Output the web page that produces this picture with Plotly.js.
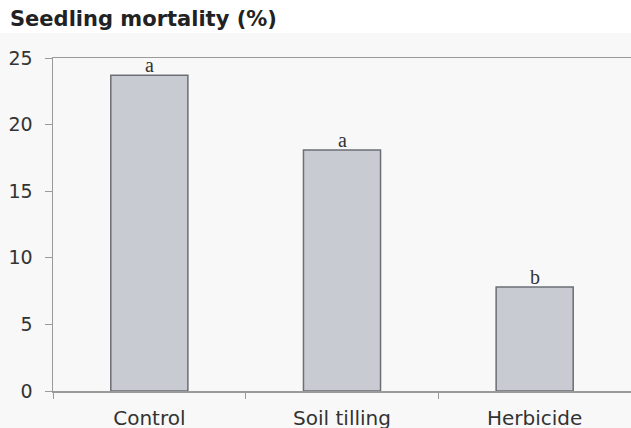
<!DOCTYPE html>
<html>
<head>
<meta charset="utf-8">
<script src="https://cdn.plot.ly/plotly-3.0.1.min.js"></script>
<style>html,body{margin:0;padding:0;background:#fff;}#chart{width:631px;height:428px;}</style>
</head>
<body>
<div id="chart"></div>
<script>
const categories = ["Control", "Soil tilling", "Herbicide"];
const mortality = [23.7, 18.1, 7.8];
const letters = ["a", "a", "b"];
const yTicks = [0, 5, 10, 15, 20, 25];

const trace = {
  type: "bar",
  x: categories,
  y: mortality,
  width: 0.4,
  marker: {color: "#c8cbd2", line: {color: "#6b6f74", width: 1.5}},
  hoverinfo: "skip"
};

const annotations = categories.map((c, i) => ({
  x: c, y: mortality[i], xref: "x", yref: "y",
  text: letters[i], showarrow: false,
  yanchor: "bottom", yshift: -2, borderpad: 0,
  font: {family: "Liberation Serif, Times New Roman, serif", size: 20, color: "#333"}
}));

const layout = {
  width: 631, height: 428,
  margin: {l: 53, r: 0, t: 58, b: 37, pad: 0},
  paper_bgcolor: "#ffffff",
  plot_bgcolor: "rgba(0,0,0,0)",
  showlegend: false,
  title: {
    text: "<b>Seedling mortality (%)</b>",
    xref: "container", yref: "container",
    x: 10/631, xanchor: "left",
    y: 1 - 19/428, yanchor: "middle",
    font: {family: "DejaVu Sans, Verdana, sans-serif", size: 21, color: "#222"}
  },
  xaxis: {
    type: "category",
    range: [-0.5, 2.5],
    showline: true, linecolor: "#9a9a9a", linewidth: 1.5,
    mirror: true,
    ticks: "outside", tickson: "boundaries", ticklen: 6, tickcolor: "#9a9a9a", tickwidth: 1,
    showgrid: false, zeroline: false,
    ticklabelstandoff: 8,
    tickfont: {family: "DejaVu Sans, Verdana, sans-serif", size: 20, color: "#333"}
  },
  yaxis: {
    range: [0, 25],
    tickvals: yTicks,
    showline: true, linecolor: "#9a9a9a", linewidth: 1.5,
    ticks: "outside", ticklen: 7, tickcolor: "#9a9a9a", tickwidth: 1,
    showgrid: false, zeroline: false,
    ticklabelstandoff: 8,
    tickfont: {family: "DejaVu Sans, Verdana, sans-serif", size: 19, color: "#333"}
  },
  shapes: [{
    type: "rect", xref: "paper", yref: "paper", layer: "below",
    x0: -53/578, x1: 1, y0: -37/333, y1: (391-33)/333,
    fillcolor: "#f8f8f8", line: {width: 0}
  }],
  annotations: annotations
};

Plotly.newPlot("chart", [trace], layout, {displayModeBar: false, staticPlot: true});
</script>
</body>
</html>
